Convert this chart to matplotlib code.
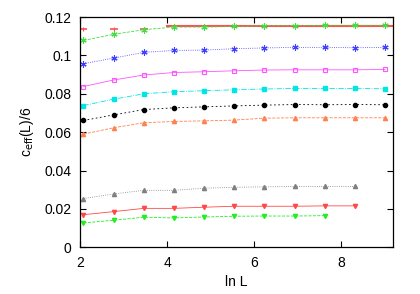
import numpy as np
import matplotlib
matplotlib.use('Agg')
import matplotlib.pyplot as plt

plt.rcParams['font.family'] = ['Liberation Sans', 'DejaVu Sans']

# ln L for L = 8 ... 8192
lnL = np.log([8, 16, 32, 64, 128, 256, 512, 1024, 2048, 4096, 8192])

red_plus = [0.1136, 0.1136, 0.1136]
exact_val = np.log(2) / 6
exact_x = [4.0, 9.2]
green_star = [0.1078, 0.1110, 0.1134, 0.1148, 0.1148, 0.1151, 0.1155, 0.1155, 0.1157, 0.1157, 0.1157]
blue_star = [0.0957, 0.0986, 0.1016, 0.1026, 0.1028, 0.1035, 0.1039, 0.1042, 0.1042, 0.1040, 0.1042]
mag_sq = [0.0838, 0.0872, 0.0898, 0.0911, 0.0915, 0.0920, 0.0924, 0.0925, 0.0925, 0.0925, 0.0927]
cyan_sq = [0.0739, 0.0772, 0.0800, 0.0811, 0.0816, 0.0821, 0.0825, 0.0828, 0.0828, 0.0828, 0.0826]
black_ci = [0.0661, 0.0690, 0.0718, 0.0727, 0.0732, 0.0737, 0.0741, 0.0744, 0.0743, 0.0744, 0.0743]
coral_tri = [0.0590, 0.0623, 0.0649, 0.0656, 0.0659, 0.0663, 0.0673, 0.0675, 0.0675, 0.0675, 0.0675]
gray_tri = [0.0254, 0.0278, 0.0297, 0.0297, 0.0308, 0.0313, 0.0315, 0.0317, 0.0317, 0.0317]
red_tri = [0.0170, 0.0186, 0.0203, 0.0203, 0.0209, 0.0214, 0.0214, 0.0214, 0.0216, 0.0216]
green_tri = [0.0127, 0.0141, 0.0157, 0.0153, 0.0158, 0.0162, 0.0163, 0.0163, 0.0165]

fig = plt.figure(figsize=(4.2, 2.94), dpi=100)
ax = fig.add_axes([0.1905, 0.1588, 0.746, 0.7832])

ms = 3.0
lw = 0.6
star = (6, 2, 0)
ax.plot(lnL[:3], red_plus, ls='none', marker='_', color='#ff5050', ms=6, mew=1.2)
ax.plot(lnL[:3], red_plus, ls='none', marker='|', color='#ff5050', ms=3, mew=0.8)
ax.plot(exact_x, [exact_val, exact_val], color='#ff5050', lw=1.5)
ax.plot(lnL, green_star, color='#44dd44', ls='--', lw=lw, marker=star, ms=ms + 1.5, mew=0.8)
ax.plot(lnL, blue_star, color='#4040ff', ls=':', lw=lw, marker=star, ms=ms + 1.5, mew=0.8)
ax.plot(lnL, mag_sq, color='#ff55ff', ls='-', lw=lw, marker='s', ms=ms + 0.5, mfc='none', mew=0.8)
ax.plot(lnL, cyan_sq, color='#00e5e5', ls='-.', lw=lw, marker='s', ms=ms)
ax.plot(lnL, black_ci, color='black', ls=(0, (2, 3)), lw=lw, marker='o', ms=ms)
ax.plot(lnL, coral_tri, color='#ff8050', ls='--', lw=lw, marker='^', ms=ms)
ax.plot(lnL[:10], gray_tri, color='#808080', ls=':', lw=lw, marker='^', ms=ms)
ax.plot(lnL[:10], red_tri, color='#ff4848', ls='-', lw=lw, marker='v', ms=ms)
ax.plot(lnL[:9], green_tri, color='#22ee22', ls='--', lw=lw, marker='v', ms=ms)

ax.set_xlim(2, 9.2)
ax.set_ylim(0, 0.12)
ax.set_xticks([2, 4, 6, 8])
ax.set_yticks([0, 0.02, 0.04, 0.06, 0.08, 0.1, 0.12])
ax.set_yticklabels(['0', '0.02', '0.04', '0.06', '0.08', '0.1', '0.12'])
ax.tick_params(direction='in', top=True, right=True, length=4, width=0.8,
               labelsize=10, pad=6)
for s in ax.spines.values():
    s.set_linewidth(0.9)

ax.set_xlabel('ln L', fontsize=10, labelpad=4)
ax.set_ylabel(r'c$_{\rm eff}$(L)/6', fontsize=10, labelpad=6)

fig.savefig('out.png', dpi=100, facecolor='white')
